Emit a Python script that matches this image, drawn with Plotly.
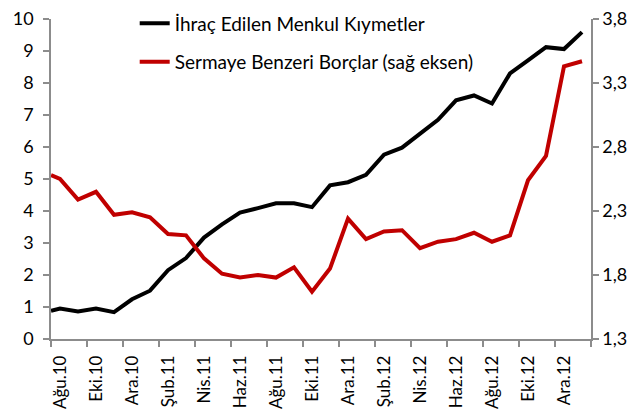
import plotly.graph_objects as go

# ---------------- DATA ----------------
months = ["Ağu.10", "Eyl.10", "Eki.10", "Kas.10", "Ara.10", "Oca.11", "Şub.11", "Mar.11",
          "Nis.11", "May.11", "Haz.11", "Tem.11", "Ağu.11", "Eyl.11", "Eki.11", "Kas.11",
          "Ara.11", "Oca.12", "Şub.12", "Mar.12", "Nis.12", "May.12", "Haz.12", "Tem.12",
          "Ağu.12", "Eyl.12", "Eki.12", "Kas.12", "Ara.12", "Oca.13"]

# line begins half a month before the first label (as in the source chart)
start_pos = -0.5
menkul_start = 0.88
sermaye_start = 2.58

menkul = [0.95, 0.86, 0.95, 0.84, 1.24, 1.51, 2.15, 2.53, 3.17, 3.58,
          3.95, 4.09, 4.24, 4.24, 4.12, 4.80, 4.90, 5.13, 5.76, 5.98,
          6.42, 6.85, 7.46, 7.61, 7.36, 8.30, 8.71, 9.12, 9.06, 9.59]

sermaye = [2.55, 2.39, 2.45, 2.27, 2.29, 2.25, 2.12, 2.11, 1.93, 1.81,
           1.78, 1.80, 1.78, 1.86, 1.67, 1.85, 2.24, 2.08, 2.14, 2.15,
           2.01, 2.06, 2.08, 2.13, 2.06, 2.11, 2.54, 2.73, 3.43, 3.47]

x = [start_pos] + list(range(len(months)))

FONT = "Lato"

fig = go.Figure()

fig.add_trace(go.Scatter(
    x=x, y=[menkul_start] + menkul,
    mode="lines", name="İhraç Edilen Menkul Kıymetler",
    line=dict(color="#000000", width=4),
    legendgroup="a"
))

fig.add_trace(go.Scatter(
    x=x, y=[sermaye_start] + sermaye,
    mode="lines", name="Sermaye Benzeri Borçlar (sağ eksen)",
    line=dict(color="#C00000", width=4),
    yaxis="y2", legendgroup="b"
))

# ticks on month boundaries, labels shifted to category centres
tick_pos = [start_pos + 2 * k for k in range(len(months) // 2 + 1)]
tick_txt = months[0::2] + [""]

axis_grey = "#8C8C8C"

# page body adds an 8px margin, so the figure is sized 8px smaller
fig.update_layout(
    width=629, height=406,
    margin=dict(l=43, r=46, t=11, b=75, autoexpand=False),
    paper_bgcolor="white", plot_bgcolor="white",
    font=dict(family=FONT, size=18, color="#000000"),
    showlegend=True,
    legend=dict(
        x=0.155, y=1.046, xanchor="left", yanchor="top",
        bgcolor="rgba(0,0,0,0)", font=dict(size=19),
        tracegroupgap=11
    ),
    xaxis=dict(
        range=[-0.5, 29.5], tickvals=tick_pos, ticktext=tick_txt,
        tickangle=-90, ticklabelshift=9, ticklabelstandoff=2,
        ticks="outside", ticklen=6, tickcolor=axis_grey, tickwidth=1.5,
        showline=True, linecolor=axis_grey, linewidth=1.5,
        showgrid=False, zeroline=False, ticklabeloverflow="allow",
        tickfont=dict(size=17)
    ),
    yaxis=dict(
        range=[0, 10], dtick=1, tick0=0,
        ticks="outside", ticklen=6, tickcolor=axis_grey, tickwidth=1.5,
        showline=True, linecolor=axis_grey, linewidth=1.5,
        showgrid=False, zeroline=False, ticklabelstandoff=6,
        ticklabeloverflow="allow",
        tickfont=dict(size=18)
    ),
    yaxis2=dict(
        range=[1.3, 3.8], dtick=0.5, tick0=1.3, tickformat=".1f",
        overlaying="y", side="right",
        ticks="outside", ticklen=6, tickcolor=axis_grey, tickwidth=1.5,
        showline=True, linecolor=axis_grey, linewidth=1.5,
        showgrid=False, zeroline=False, ticklabeloverflow="allow",
        tickfont=dict(size=18)
    ),
    separators=",."
)

fig.write_html("out.html")
